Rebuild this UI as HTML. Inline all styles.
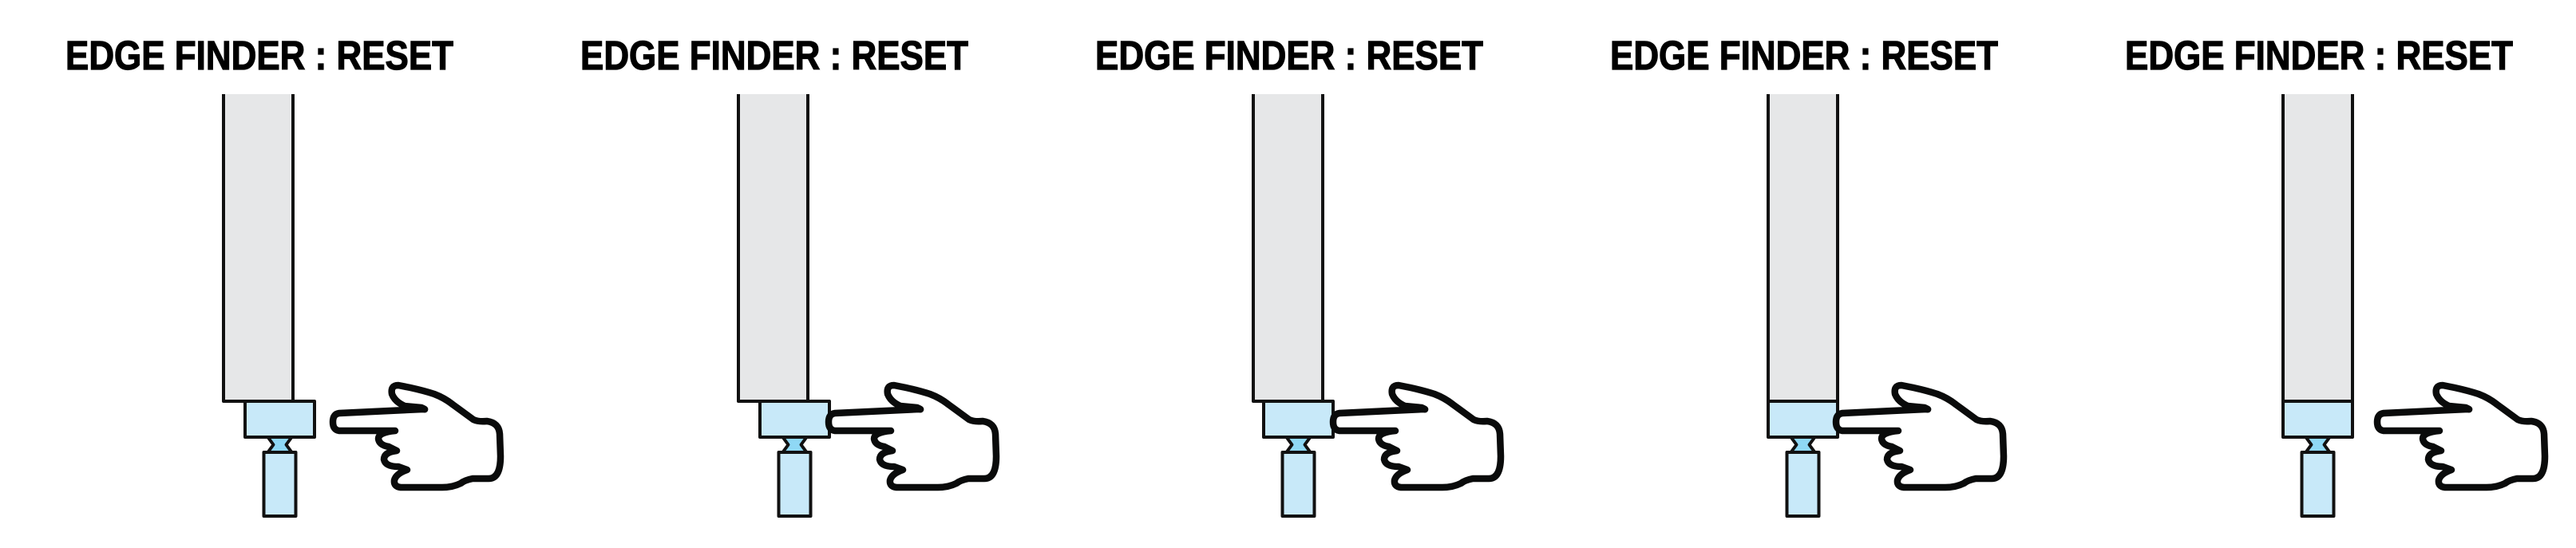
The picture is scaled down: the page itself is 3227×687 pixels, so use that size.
<!DOCTYPE html>
<html><head><meta charset="utf-8"><style>
html,body{margin:0;padding:0;background:#fff;}
svg{display:block;}
</style></head><body>
<svg id="chart" width="3227" height="687" viewBox="0 0 3227 687" xmlns="http://www.w3.org/2000/svg"></svg>
<script>
const panels = ["step-1","step-2","step-3","step-4","step-5"];
const collarShift = [27, 27, 13, 0, 0];
const handX = [417, 393, 380, 365, 398];

const NS = "http://www.w3.org/2000/svg";
const svg = document.getElementById("chart");
const PANEL_W = 645;
function mk(tag, attrs, parent){
  const e = document.createElementNS(NS, tag);
  for (const k in attrs) e.setAttribute(k, attrs[k]);
  parent.appendChild(e);
  return e;
}
const HAND = "M8,36 L113,31 Q118,32 111,29 L90,27 Q78,22 74,12 Q72,1 82,1 L97,4 Q115,8 127,12 Q140,17 150,25 L176,44 Q182,47 193,46 Q208,48 209,62 L210,90 Q210,118 195,118 L175,118 Q165,120 160,124 Q150,129 137,129 L85,129 Q76,128 77,120 Q79,112 93,107 L82,103 Q66,103 64,94 Q64,85 80,83 L70,78 Q58,76 57,68 Q57,60 78,58 L8,58 Q0,57 0,47 Q0,37 8,36 Z";

panels.forEach((p, i) => {
  const ox = i * PANEL_W;
  const g = mk("g", {transform: "translate(" + ox + ",0)"}, svg);
  
  

  const t = mk("text", {x: 82, y: 87, "font-family": "Liberation Sans, Arial, sans-serif", "font-weight": "bold", "font-size": 51, fill: "#000", stroke: "#000", "stroke-width": 1.2, textLength: 486, lengthAdjust: "spacingAndGlyphs"}, g);
  t.textContent = "EDGE FINDER : RESET";
  
  

  const sx = 280, sw = 87, top = 118, sb = 503, cb = 548, tb = 647, tt = 567;
  const shaft = mk("path", {d: "M" + sx + "," + top + " L" + sx + "," + sb + " L" + (sx + sw) + "," + sb + " L" + (sx + sw) + "," + top, fill: "#e6e7e8", stroke: "#111", "stroke-width": 4, "stroke-linejoin": "round"}, g);
  
  

  const cx0 = sx + collarShift[i];
  const c = cx0 + sw / 2;

  const neck = mk("polygon", {points: [(c-15)+","+cb, (c+15)+","+cb, (c+8)+","+(cb+9.5), (c+15)+","+tt, (c-15)+","+tt, (c-8)+","+(cb+9.5)].join(" "), fill: "#8fd8f5", stroke: "#111", "stroke-width": 4, "stroke-linejoin": "round"}, g);
  
  

  const collar = mk("rect", {x: cx0, y: sb, width: sw, height: cb - sb, fill: "#c8e9f9", stroke: "#111", "stroke-width": 4, "stroke-linejoin": "round"}, g);
  
  

  const tip = mk("rect", {x: c - 20, y: tt, width: 40, height: tb - tt, fill: "#c8e9f9", stroke: "#111", "stroke-width": 4, "stroke-linejoin": "round"}, g);
  
  

  const hand = mk("path", {d: HAND, transform: "translate(" + handX[i] + ",482)", fill: "#fff", stroke: "#0a0b0b", "stroke-width": 8.5, "stroke-linejoin": "round", "stroke-linecap": "round"}, g);
  
  
});
</script>
</body></html>
